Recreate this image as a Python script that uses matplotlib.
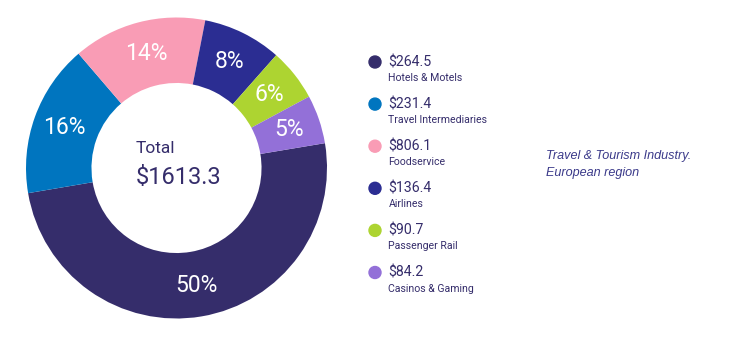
import matplotlib
matplotlib.use("Agg")
import matplotlib.pyplot as plt
from matplotlib.patches import Ellipse

# slices as drawn on the ring (clockwise from the right)
slice_values = [806.1, 264.5, 231.4, 136.4, 90.7, 84.2]

# legend entries
legend_values = ["$264.5", "$231.4", "$806.1", "$136.4", "$90.7", "$84.2"]
legend_labels = ["Hotels & Motels", "Travel Intermediaries", "Foodservice",
                 "Airlines", "Passenger Rail", "Casinos & Gaming"]
colors = ["#352d6b", "#0075bf", "#f99cb5", "#2b2d92", "#add431", "#9370d8"]

total_label = "$1613.3"
note = "Travel & Tourism Industry.\nEuropean region"

W, H = 740, 357
plt.rcParams['font.family'] = ['Roboto', 'DejaVu Sans']

fig = plt.figure(figsize=(W / 100, H / 100), dpi=100)

cx, cy, r = 176.5, 168, 150.5
ax = fig.add_axes([(cx - r) / W, (H - cy - r) / H, 2 * r / W, 2 * r / H])
wedges, texts, autotexts = ax.pie(
    slice_values, colors=colors, startangle=9.5, counterclock=False,
    radius=1, autopct=lambda p: "%d%%" % round(p), pctdistance=0.79,
    wedgeprops=dict(width=0.435, linewidth=0),
    textprops=dict(color="white", fontsize=16.5))
ax.set_xlim(-1, 1)
ax.set_ylim(-1, 1)
ax.set_aspect("equal")
ax.axis("off")

txt_color = "#352d6b"
ax.text(-0.27, 0.13, "Total", fontsize=12.5, color=txt_color, va="center")
ax.text(-0.27, -0.065, total_label, fontsize=17, color=txt_color, va="center")


def px(x, y):
    return x / W, 1 - y / H


for i in range(len(legend_values)):
    y0 = 62 + i * 42.1
    fig.add_artist(Ellipse(px(375, y0), 12 / W, 12 / H, transform=fig.transFigure,
                           color=colors[i]))
    fig.text(*px(388, y0), legend_values[i], fontsize=10.2, color=txt_color,
             va="center", ha="left")
    fig.text(*px(388.5, y0 + 16), legend_labels[i], fontsize=7.6, color=txt_color,
             va="center", ha="left")

fig.text(*px(546, 164.5), note, fontsize=9.1, color="#3b3a8a", style="italic",
         family="Liberation Sans", va="center", ha="left", linespacing=1.45)

fig.savefig("out.png", dpi=100)
